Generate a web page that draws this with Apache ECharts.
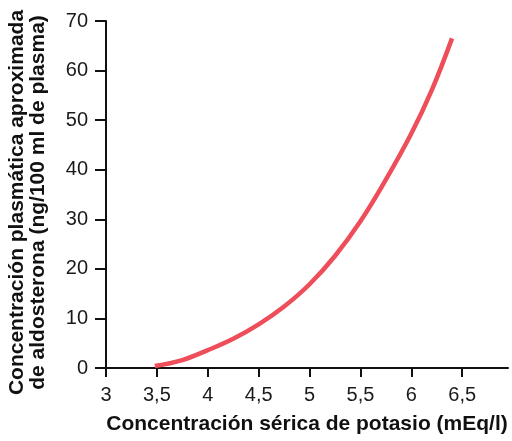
<!DOCTYPE html>
<html>
<head>
<meta charset="utf-8">
<script src="https://cdn.jsdelivr.net/npm/echarts@6/dist/echarts.min.js"></script>
<style>
html,body{margin:0;padding:0;background:#fff;}
#c{width:512px;height:441px;}
</style>
</head>
<body>
<div id="c"></div>
<script>
var potassium = [3.48, 3.75, 4.0, 4.25, 4.5, 4.75, 5.0, 5.25, 5.5, 5.75, 6.0, 6.2, 6.4];
var aldosterone = [0.4, 1.6, 3.6, 5.9, 8.8, 12.4, 16.9, 22.6, 29.6, 38.0, 47.3, 56.0, 66.5];
var xTicks = [3, 3.5, 4, 4.5, 5, 5.5, 6, 6.5];
var yTicks = [0, 10, 20, 30, 40, 50, 60, 70];
var xTitle = 'Concentración sérica de potasio (mEq/l)';
var yTitle = 'Concentración plasmática aproximada\nde aldosterona (ng/100 ml de plasma)';

var chart = echarts.init(document.getElementById('c'), null, {renderer: 'canvas'});
var font = '"Liberation Sans", Arial, sans-serif';
chart.setOption({
  animation: false,
  backgroundColor: '#fff',
  grid: {left: 106, right: 4, top: 21, bottom: 73, containLabel: false, outerBoundsMode: 'none'},
  xAxis: {
    type: 'value', min: 3, max: 6.95,
    name: xTitle, nameLocation: 'middle', nameGap: 46,
    nameTextStyle: {fontFamily: font, fontWeight: 'bold', fontSize: 21, lineHeight: 21, color: '#111'},
    axisLine: {show: true, onZero: false, lineStyle: {color: '#111', width: 2}},
    axisTick: {show: true, length: 9, lineStyle: {color: '#111', width: 2}, customValues: xTicks},
    axisLabel: {fontFamily: font, fontSize: 20, color: '#1a1a1a', margin: 17, customValues: xTicks,
      formatter: function (v) { return String(v).replace('.', ','); }},
    splitLine: {show: false}
  },
  yAxis: {
    type: 'value', min: 0, max: 70, interval: 10,
    name: yTitle, nameLocation: 'middle', nameGap: 57, nameRotate: 90,
    nameTextStyle: {fontFamily: font, fontWeight: 'bold', fontSize: 21, color: '#111', lineHeight: 21, align: 'center', padding: [0, 16, 0, 0]},
    axisLine: {show: true, onZero: false, lineStyle: {color: '#111', width: 2}},
    axisTick: {show: true, length: 11, lineStyle: {color: '#111', width: 2}, customValues: yTicks},
    axisLabel: {fontFamily: font, fontSize: 20, color: '#1a1a1a', margin: 18, customValues: yTicks},
    splitLine: {show: false}
  },
  series: [{
    type: 'line',
    data: potassium.map(function (x, i) { return [x, aldosterone[i]]; }),
    smooth: 0.4,
    showSymbol: false,
    lineStyle: {color: '#ee4d5a', width: 4.5, cap: 'butt'}
  }]
});
</script>
</body>
</html>
